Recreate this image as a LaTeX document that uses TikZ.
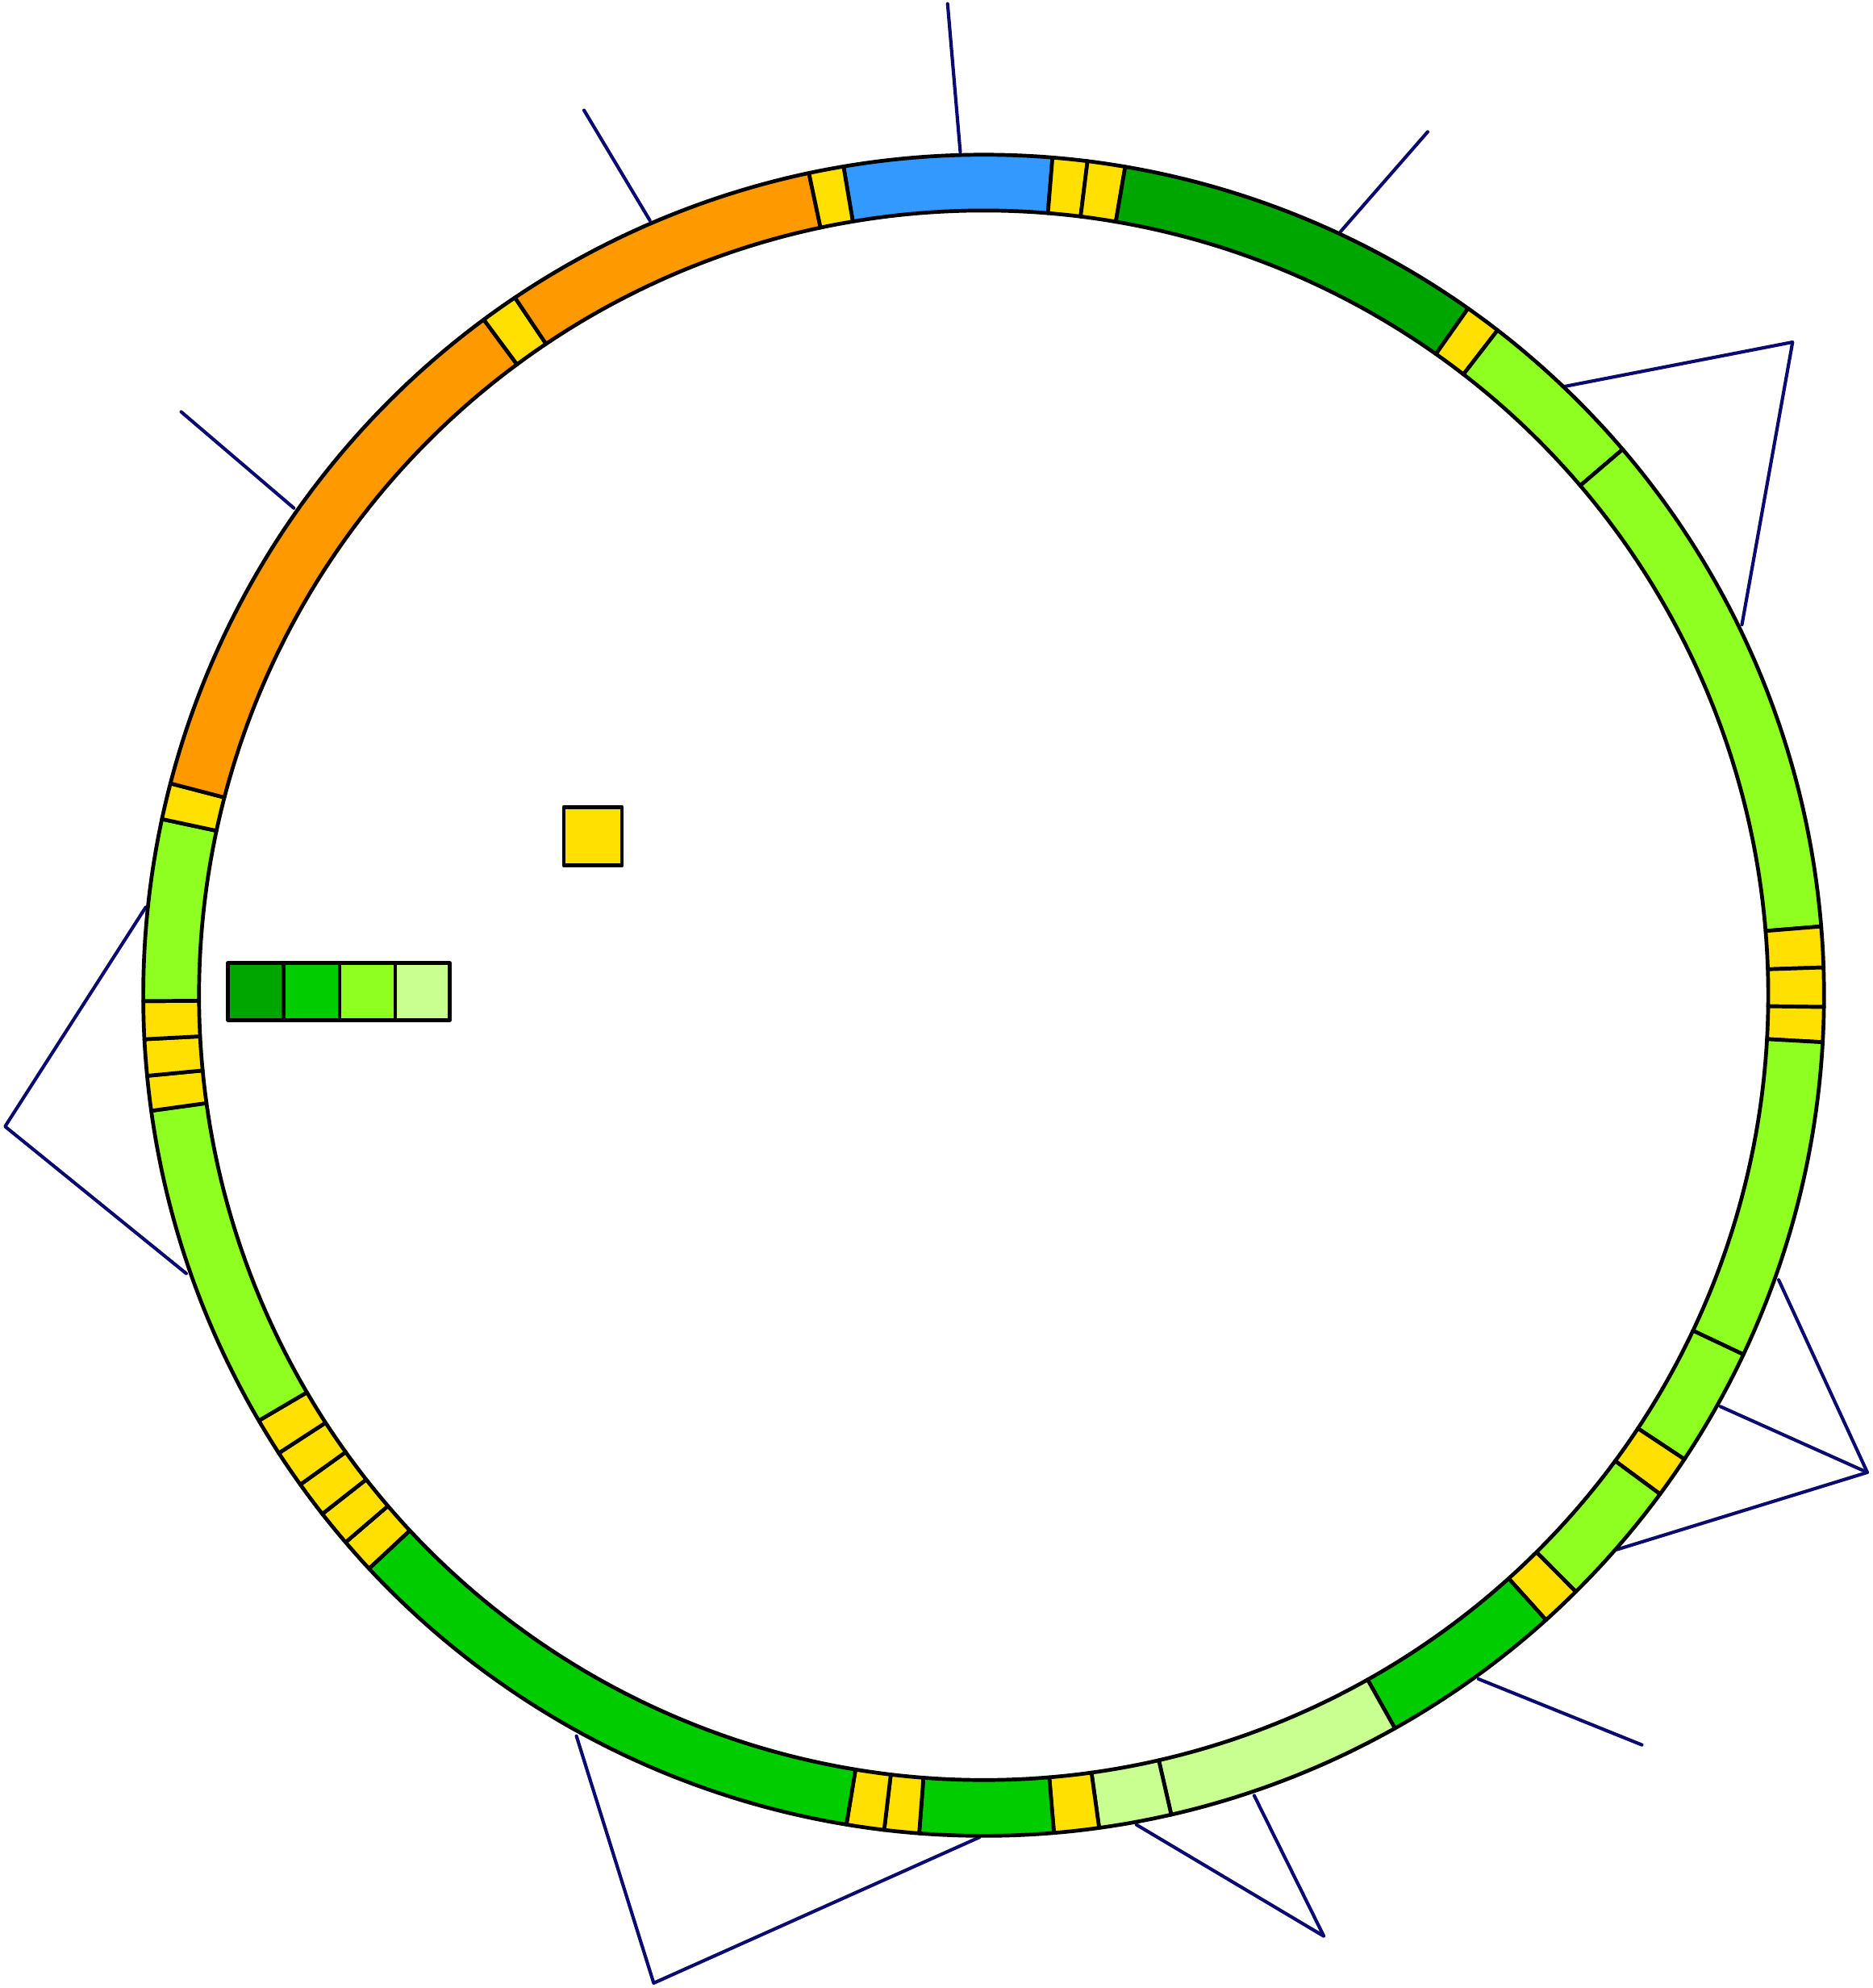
\documentclass[tikz,border=0pt]{standalone}
\definecolor{cO}{HTML}{FF9900}
\definecolor{cB}{HTML}{3399FF}
\definecolor{cY}{HTML}{FFE000}
\definecolor{cD}{HTML}{00A600}
\definecolor{cM}{HTML}{00CC00}
\definecolor{cL}{HTML}{8FFF22}
\definecolor{cP}{HTML}{C8FF90}
\definecolor{navy}{HTML}{0A0A70}
\begin{document}
\begin{tikzpicture}
\useasboundingbox (0,0) rectangle (14.77,-15.68);
\tikzset{segline/.style={draw=black,line width=0.85pt,line join=round},
 spoke/.style={draw=navy,line width=0.75pt,line cap=round,line join=round}}
\begin{scope}[x=0.01cm,y=-0.01cm]
\draw[spoke] (748,3) -- (758,120);
\draw[spoke] (461,87) -- (513,174);
\draw[spoke] (143,325) -- (232,401);
\draw[spoke] (1127,104) -- (1058,183);
\draw[spoke] (1235,305) -- (1415,270) -- (1375,493);
\draw[spoke] (115,716) -- (4,889) -- (147,1005);
\draw[spoke] (1404,1010) -- (1474,1162) -- (1276,1223);
\draw[spoke] (1358,1110) -- (1474,1162);
\draw[spoke] (1167,1325) -- (1296,1377);
\draw[spoke] (455,1370) -- (516,1565) -- (773,1450);
\draw[spoke] (897,1440) -- (1045,1528) -- (990,1417);
\draw[segline,fill=cY] (445,637) rectangle (491,683);
\draw[segline,fill=cD] (180,760) rectangle (224,805);
\draw[segline,fill=cM] (224,760) rectangle (268,805);
\draw[segline,fill=cL] (268,760) rectangle (312,805);
\draw[segline,fill=cP] (312,760) rectangle (355,805);
\end{scope}
\begin{scope}[shift={(7.76,-7.85)}]
\foreach \a/\b/\c in {99.6/85.3/cB, 85.3/82.9/cY, 82.9/80.3/cY, 80.3/54.8/cD, 54.8/52.3/cY,
 52.3/40.5/cL, 40.5/4.7/cL, 4.7/1.9/cY, 1.9/-0.8/cY, -0.8/-3.2/cY, -3.2/-25.3/cL, -25.3/-33.5/cL,
 -33.5/-36.4/cY, -36.4/-45.2/cL, -45.2/-48/cY, -48/-60.7/cM, -60.7/-77.1/cP, -77.1/-82.1/cP,
 -82.1/-85.2/cY, -85.2/-94.4/cM, -94.4/-96.8/cY, -96.8/-99.4/cY, -99.4/-137/cM,
 -137/-139.4/cY, -139.4/-141.9/cY, -141.9/-144.4/cY, -144.4/-147/cY, -147/-149.6/cY,
 -149.6/-172.1/cL, -172.1/-174.5/cY, -174.5/-177/cY, -177/-179.6/cY, -179.6/-192.1/cL,
 167.9/165.4/cY, 165.4/126.5/cO, 126.5/123.9/cY, 123.9/102/cO, 102/99.6/cY}
 {\draw[segline,fill=\c] (\a:6.63) arc[start angle=\a,end angle=\b,radius=6.63]
   -- (\b:6.19) arc[start angle=\b,end angle=\a,radius=6.19] -- cycle;}
\end{scope}
\end{tikzpicture}
\end{document}
